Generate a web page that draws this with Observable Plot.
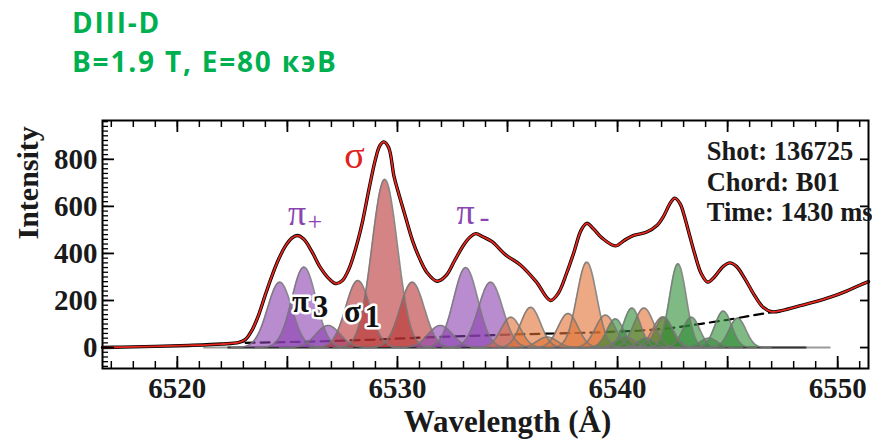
<!DOCTYPE html>
<html><head><meta charset="utf-8">
<script src="https://cdn.jsdelivr.net/npm/d3@7"></script>
<script src="https://cdn.jsdelivr.net/npm/@observablehq/plot@0.6"></script>
<style>
body{margin:0;background:#fff;}
#wrap{position:relative;width:872px;height:441px;overflow:hidden;}
#title{position:absolute;left:72px;top:3px;font-family:"Open Sans";font-weight:700;font-size:28px;line-height:39px;color:#00b050;letter-spacing:1.8px;white-space:nowrap;z-index:2;}
#wrap svg{position:absolute;left:0;top:0;}
</style></head><body>
<div id="wrap"><div id="title">DIII-D<br>B=1.9 T, E=80 кэВ</div></div>
<script>
// measured spectrum (Å, intensity)
const spectrumWavelength = [6516.6,6517.5,6519.0,6520.5,6522.0,6522.8,6523.1,6523.4,6523.7,6524.0,6524.3,6524.6,6524.9,6525.2,6525.45,6525.75,6526.1,6526.5,6526.9,6527.2,6527.5,6527.8,6528.1,6528.4,6528.7,6529.0,6529.2,6529.38,6529.6,6529.85,6530.1,6530.35,6530.7,6531.0,6531.35,6531.8,6532.2,6532.6,6533.0,6533.3,6533.55,6533.9,6534.3,6534.9,6535.6,6536.3,6536.95,6537.3,6537.7,6538.0,6538.35,6538.6,6538.9,6539.3,6539.9,6540.3,6540.7,6541.3,6541.8,6542.1,6542.4,6542.6,6542.85,6543.0,6543.25,6543.5,6543.8,6544.1,6544.4,6544.8,6545.1,6545.4,6545.8,6546.2,6546.6,6547.0,6547.5,6548.3,6549.0,6549.7,6550.4,6551.0,6551.4];
const spectrumIntensity  = [0,2,5,9,15,22,35,75,140,225,305,375,430,465,476,460,410,340,292,272,285,335,420,530,670,800,858,874,850,725,640,560,450,380,318,282,305,370,435,470,484,470,450,395,350,280,200,230,320,400,500,528,505,465,432,455,476,490,520,560,615,635,610,570,485,400,315,278,300,345,360,345,290,225,172,152,158,178,195,215,240,265,280];
// fitted background (dashed)
const baselineWavelength = [6523.1,6526.0,6528.8,6531.0,6535.0,6539.0,6541.0,6542.4,6543.8,6545.0,6546.1,6547.0];
const baselineIntensity  = [20,25,33,42,55,64,72,82,101,118,136,150];
// Gaussian components: group, centre (Å), height, width (σ, Å)
const componentGroup  = ["pi","pi","pi","sigma","sigma","sigma","pi","pi","pi",
  "half","half","half","half","half","half","half","half","half",
  "third","third","third","third","third","third","third","third","third"];
const componentCenter = [6524.65,6525.75,6526.85,6528.2,6529.42,6530.67,6531.95,6533.1,6534.23,
  6535.15,6536.05,6536.8,6537.75,6538.6,6539.45,6540.35,6541.2,6542.05,
  6539.9,6540.65,6541.3,6542.1,6542.74,6543.35,6544.15,6544.8,6545.45];
const componentHeight = [278,342,94,285,715,278,94,340,278,
  129,171,45,145,363,138,45,168,130,
  122,168,40,129,356,129,40,155,125];
const componentWidth  = [0.55,0.55,0.55,0.55,0.58,0.55,0.55,0.55,0.55,
  0.45,0.45,0.45,0.45,0.45,0.45,0.45,0.45,0.45,
  0.38,0.38,0.38,0.38,0.38,0.38,0.38,0.38,0.38];
const groupColor = {pi:"#8a3fb0", sigma:"#b83232", half:"#e07030", third:"#2a8a30"};
// component zero line extents
const zeroLineLight = [6521.2, 6549.7];
const zeroLineDark = [6522.3, 6548.6];
// ticks
const xTickLabels = [6520, 6530, 6540, 6550];
const xMajorTicks = [6520, 6525, 6530, 6535, 6540, 6545, 6550];
const xMinorTicks = d3.range(6517, 6552, 1);
const yTickLabels = [0, 200, 400, 600, 800];
const yMinorTicks = d3.range(-80, 961, 20);
// annotations
const greekText  = ["σ","π","+","π","-"];
const greekX     = [6528.05,6525.44,6526.25,6533.1,6533.95];
const greekY     = [815,570,535,575,555];
const greekColor = ["#e0201c","#8a46b0","#8a46b0","#8a46b0","#8a46b0"];
const greekSize  = [38,36,26,36,30];
const haloText = ["π","3","σ","1"];
const haloX    = [6525.6,6526.5,6527.95,6528.85];
const haloY    = [193,172,150,129];
const infoText = ["Shot: 136725","Chord: B01","Time: 1430 ms"];
const infoX = 6544.05;
const infoY = [798,665,537];

const spectrum = spectrumWavelength.map((x, i) => ({x, y: spectrumIntensity[i]}));
const baseline = baselineWavelength.map((x, i) => ({x, y: baselineIntensity[i]}));
const comps = componentCenter.flatMap((c, i) => {
  const w = componentWidth[i], h = componentHeight[i];
  return d3.range(-4, 4.0001, 0.1).map(k => ({id: i, color: groupColor[componentGroup[i]], x: c + k * w, y: h * Math.exp(-0.5 * k * k)}));
});
const greek = greekText.map((t, i) => ({t, x: greekX[i], y: greekY[i], c: greekColor[i], s: greekSize[i]}));
const halo = haloText.map((t, i) => ({t, x: haloX[i], y: haloY[i]}));
const info = infoText.map((t, i) => ({t, x: infoX, y: infoY[i]}));

const W = 872, H = 441, mt = 120, mb = 73, ml = 102, mr = 4;
const ih = H - mt - mb, iw = W - ml - mr;
const serif = "Liberation Serif";

const chart = Plot.plot({
  width: W, height: H,
  marginTop: mt, marginBottom: mb, marginLeft: ml, marginRight: mr,
  x: {domain: [6516.6, 6551.4], axis: null},
  y: {domain: [-89, 965], axis: null},
  color: {type: "identity"},
  style: {background: "transparent", overflow: "visible", fontFamily: serif},
  marks: [
    Plot.ruleY([0], {x1: zeroLineLight[0], x2: zeroLineLight[1], stroke: "#9a9a9a", strokeWidth: 2}),
    Plot.ruleY([0], {x1: zeroLineDark[0], x2: zeroLineDark[1], stroke: "#333", strokeWidth: 2}),
    Plot.lineY(baseline, {x: "x", y: "y", stroke: "black", strokeWidth: 2.2, strokeDasharray: "9,6"}),
    Plot.areaY(comps, {x: "x", y1: 0, y2: "y", z: "id", fill: "color", fillOpacity: 0.6}),
    Plot.lineY(comps, {x: "x", y: "y", z: "id", stroke: "#777", strokeWidth: 1.6, strokeOpacity: 0.85}),
    Plot.lineY(spectrum, {x: "x", y: "y", stroke: "black", strokeWidth: 3.4, curve: "catmull-rom"}),
    Plot.lineY(spectrum, {x: "x", y: "y", stroke: "#e8281e", strokeWidth: 1.8, curve: "catmull-rom"}),
    // ticks (inward)
    Plot.tickX(xMinorTicks, {x: d => d, insetBottom: ih - 7, stroke: "black", strokeWidth: 1.5}),
    Plot.tickX(xMinorTicks, {x: d => d, insetTop: ih - 7, stroke: "black", strokeWidth: 1.5}),
    Plot.tickX(xMajorTicks, {x: d => d, insetBottom: ih - 12, stroke: "black", strokeWidth: 1.8}),
    Plot.tickX(xMajorTicks, {x: d => d, insetTop: ih - 12, stroke: "black", strokeWidth: 1.8}),
    Plot.tickY(yMinorTicks, {y: d => d, insetRight: iw - 6, stroke: "black", strokeWidth: 1.3}),
    Plot.tickY(yTickLabels, {y: d => d, insetRight: iw - 12, stroke: "black", strokeWidth: 1.8}),
    Plot.tickY(yTickLabels, {y: d => d, insetLeft: iw - 8, stroke: "black", strokeWidth: 1.8}),
    Plot.frame({stroke: "black", strokeWidth: 2}),
    // tick labels
    Plot.text(xTickLabels, {x: d => d, text: d => String(d), frameAnchor: "bottom", dy: 9, lineAnchor: "top", fontSize: 29, fontFamily: serif, fontWeight: "bold", fill: "#1a1a1a"}),
    Plot.text(yTickLabels, {y: d => d, text: d => String(d), frameAnchor: "left", dx: -5, textAnchor: "end", fontSize: 29, fontFamily: serif, fontWeight: "bold", fill: "#1a1a1a"}),
    Plot.text(["Wavelength (Å)"], {frameAnchor: "bottom", dx: 22, dy: 63, lineAnchor: "bottom", fontSize: 31, fontFamily: serif, fontWeight: "bold", fill: "#1a1a1a"}),
    Plot.text(["Intensity"], {frameAnchor: "left", dx: -65, dy: -5, rotate: -90, lineAnchor: "bottom", fontSize: 30, fontFamily: serif, fontWeight: "bold", fill: "#1a1a1a"}),
    // annotations
    Plot.text(greek, {x: "x", y: "y", text: "t", fill: "c", fontSize: "s", fontFamily: serif}),
    Plot.text(halo, {x: "x", y: "y", text: "t", fill: "#111", stroke: "white", strokeWidth: 5, fontSize: 31, fontWeight: "bold", fontFamily: serif}),
    Plot.text(info, {x: "x", y: "y", text: "t", textAnchor: "start", lineAnchor: "bottom", fontSize: 26.5, fontWeight: "bold", fontFamily: serif, fill: "#1a1a1a"})
  ]
});
document.getElementById("wrap").appendChild(chart);
</script>
</body></html>
